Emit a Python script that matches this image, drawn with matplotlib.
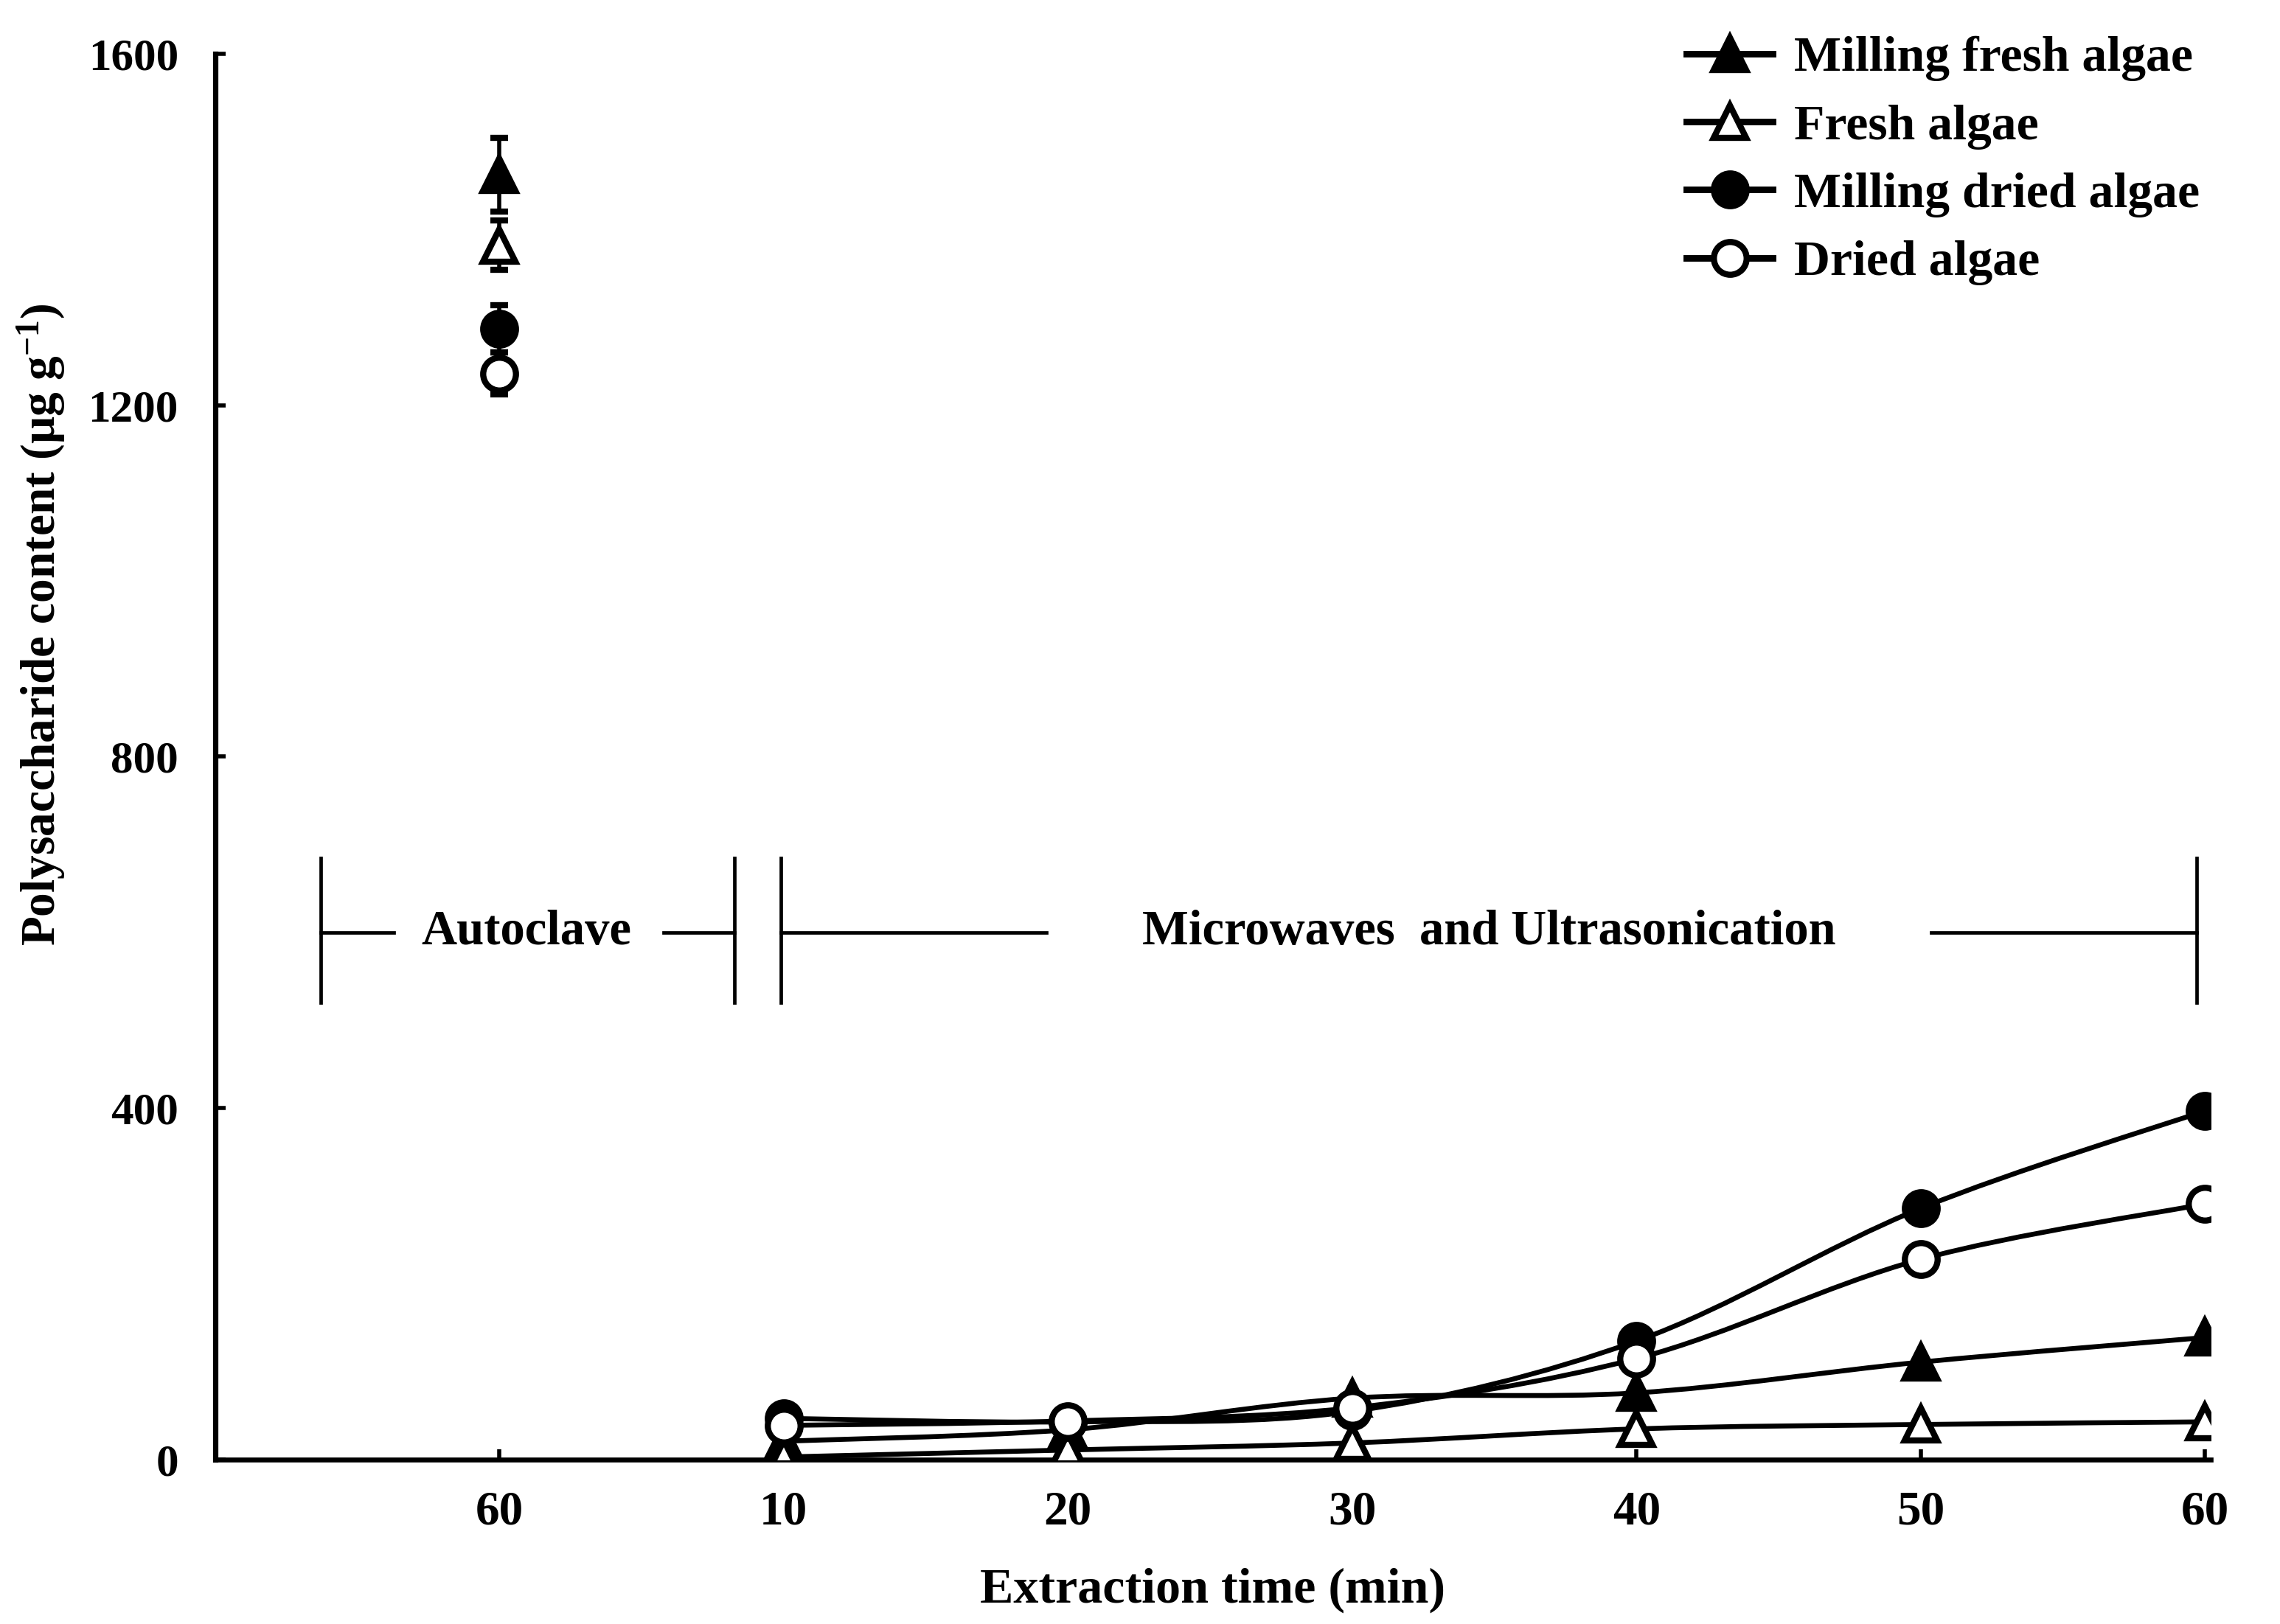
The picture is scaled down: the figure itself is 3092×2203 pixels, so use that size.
import matplotlib
matplotlib.use('Agg')
import matplotlib.pyplot as plt
from matplotlib.path import Path
from matplotlib.patches import PathPatch
from matplotlib.lines import Line2D
import numpy as np

plt.rcParams['font.family'] = ['Liberation Serif', 'DejaVu Serif']
plt.rcParams['font.weight'] = 'bold'
plt.rcParams['mathtext.fontset'] = 'custom'
plt.rcParams['mathtext.rm'] = 'Liberation Serif:bold'
plt.rcParams['mathtext.bf'] = 'Liberation Serif:bold'
plt.rcParams['mathtext.default'] = 'bf'

#Tick labels (first one is the autoclave run, the rest the microwave/ultrasound runs)
tick_labels = ['60', '10', '20', '30', '40', '50', '60']
times = [10, 20, 30, 40, 50, 60]

series_names = ['Milling fresh algae', 'Fresh algae', 'Milling dried algae', 'Dried algae']

#Microwaves and ultrasonication values (ug/g)
milling_fresh = [21, 34, 70, 76, 111, 139]
fresh = [3, 11, 19, 35, 40, 43]
milling_dried = [47, 43, 55, 135, 286, 397]
dried = [39, 44, 59, 115, 228, 291]

#Autoclave 60 min values and error bars
autoclave = [1462, 1382, 1287, 1236]
autoclave_err = [42, 28, 27, 24]

markers = ['^', '^', 'o', 'o']
faces = ['black', 'white', 'black', 'white']


#Smooth curve through points (Catmull-Rom as cubic bezier, like Excel smoothed lines)
def smoothPath(x, y):
    pts = np.column_stack([x, y]).astype(float)
    n = len(pts)
    verts = [pts[0]]
    codes = [Path.MOVETO]
    for i in range(n - 1):
        p0 = pts[i - 1] if i > 0 else pts[i]
        p1 = pts[i]
        p2 = pts[i + 1]
        p3 = pts[i + 2] if i + 2 < n else pts[i + 1]
        c1 = p1 + (p2 - p0) / 6.0
        c2 = p2 - (p3 - p1) / 6.0
        verts += [c1, c2, p2]
        codes += [Path.CURVE4] * 3
    return Path(verts, codes)


fig = plt.figure(figsize=(15.46, 11.015), dpi=200)
ax = fig.add_axes([0.0944, 0.1012, 0.8752, 0.8657])

pos = np.arange(1, len(times) + 1)
all_series = [milling_fresh, fresh, milling_dried, dried]
handles = []
for k, vals in enumerate(all_series):
    patch = PathPatch(smoothPath(pos, vals), fill=False, edgecolor='black', lw=2.4,
                      zorder=2 + k, capstyle='round', joinstyle='round')
    ax.add_patch(patch)
    ax.plot(pos, vals, linestyle='none', marker=markers[k], ms=16, mew=3,
            mfc=faces[k], mec='black', zorder=2.5 + k)
    ax.errorbar([0], [autoclave[k]], yerr=[autoclave_err[k]], fmt=markers[k], ms=16, mew=3,
                mfc=faces[k], mec='black', ecolor='black', elinewidth=2, capsize=4.2,
                capthick=2.5, zorder=2.5 + k)
    handles.append(Line2D([0], [0], color='black', lw=3.2, marker=markers[k], ms=16,
                          mew=3, mfc=faces[k], mec='black'))

ax.set_xlim(-1, 6.02)
ax.set_ylim(0, 1600)
ax.set_xticks(range(len(tick_labels)))
ax.set_xticklabels(tick_labels)
ax.set_yticks([0, 400, 800, 1200, 1600])
ax.tick_params(direction='in', length=5, width=2, pad=15)
ax.tick_params(axis='x', labelsize=23.5)
ax.tick_params(axis='y', labelsize=22, pad=18)
ax.spines['top'].set_visible(False)
ax.spines['right'].set_visible(False)
ax.spines['left'].set_linewidth(2.6)
ax.spines['bottom'].set_linewidth(2.4)

ax.set_xlabel('Extraction time (min)', fontsize=24.5, fontweight='bold', labelpad=16)
ax.set_ylabel('Polysaccharide content (μg g$^{-1}$)', fontsize=23.5, fontweight='bold')
ax.yaxis.set_label_coords(-0.0875, 0.594)
ax.yaxis.label.set_verticalalignment('center')

#Method brackets
bk = dict(color='black', lw=1.7, clip_on=False)
for xv in [-0.628, 0.827, 0.99, 5.97]:
    ax.plot([xv, xv], [520, 685], **bk)
ax.plot([-0.628, -0.372], [600, 600], **bk)
ax.plot([0.577, 0.827], [600, 600], **bk)
ax.plot([0.99, 1.923], [600, 600], **bk)
ax.plot([5.036, 5.97], [600, 600], **bk)
ax.text(0.095, 600, 'Autoclave', ha='center', va='center', fontsize=24, fontweight='bold')
ax.text(3.48, 600, 'Microwaves  and Ultrasonication', ha='center', va='center',
        fontsize=24, fontweight='bold')

ax.legend(handles, series_names, loc='upper left', bbox_to_anchor=(0.72, 1.0055),
          bbox_transform=fig.transFigure, frameon=False, fontsize=24.4, handlelength=1.72,
          handletextpad=0.43, labelspacing=0.456)

fig.savefig('out.png', dpi=200)
